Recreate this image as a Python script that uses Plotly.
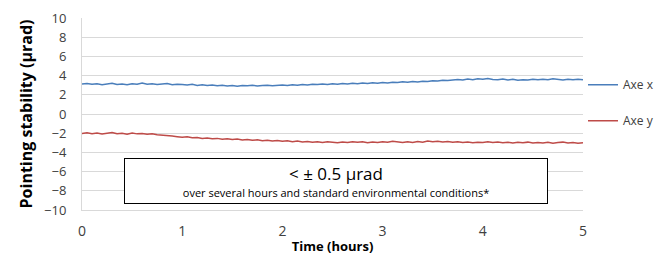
import plotly.graph_objects as go

time_h = [0.00,0.05,0.10,0.15,0.20,0.25,0.30,0.35,0.40,0.45,0.50,0.55,0.60,0.65,0.70,0.75,0.80,0.85,0.90,0.95,
          1.00,1.05,1.10,1.15,1.20,1.25,1.30,1.35,1.40,1.45,1.50,1.55,1.60,1.65,1.70,1.75,1.80,1.85,1.90,1.95,
          2.00,2.05,2.10,2.15,2.20,2.25,2.30,2.35,2.40,2.45,2.50,2.55,2.60,2.65,2.70,2.75,2.80,2.85,2.90,2.95,
          3.00,3.05,3.10,3.15,3.20,3.25,3.30,3.35,3.40,3.45,3.50,3.55,3.60,3.65,3.70,3.75,3.80,3.85,3.90,3.95,
          4.00,4.05,4.10,4.15,4.20,4.25,4.30,4.35,4.40,4.45,4.50,4.55,4.60,4.65,4.70,4.75,4.80,4.85,4.90,4.95,
          5.00]

axe_x = [3.12,3.18,3.10,3.15,3.06,3.14,3.20,3.08,3.13,3.05,3.16,3.10,3.22,3.09,3.15,3.07,3.12,3.18,3.04,3.11,
         3.08,3.02,3.10,2.98,3.05,2.96,3.03,2.94,3.00,2.92,2.98,2.90,2.97,2.93,2.99,2.91,2.96,3.00,2.94,2.98,
         3.02,2.97,3.05,3.00,3.08,3.03,3.10,3.06,3.12,3.08,3.15,3.11,3.18,3.13,3.20,3.16,3.22,3.19,3.26,3.21,
         3.28,3.24,3.31,3.27,3.35,3.30,3.38,3.34,3.42,3.38,3.47,3.43,3.52,3.48,3.56,3.60,3.55,3.64,3.58,3.66,
         3.62,3.70,3.60,3.57,3.64,3.55,3.62,3.52,3.58,3.54,3.61,3.56,3.63,3.57,3.66,3.59,3.55,3.63,3.58,3.62,
         3.57]

axe_y = [-2.02,-1.96,-2.05,-1.98,-2.08,-2.00,-1.94,-2.06,-2.01,-2.10,-1.99,-2.07,-2.03,-2.12,-2.05,-2.15,
         -2.18,-2.24,-2.30,-2.36,
         -2.42,-2.38,-2.48,-2.44,-2.55,-2.50,-2.58,-2.54,-2.62,-2.58,-2.66,-2.61,-2.70,-2.66,-2.74,-2.69,-2.78,-2.73,-2.82,-2.76,
         -2.84,-2.79,-2.88,-2.82,-2.92,-2.86,-2.95,-2.88,-2.97,-2.90,-2.94,-3.00,-2.91,-2.97,-2.88,-2.95,-2.90,-2.99,-2.92,-2.96,
         -2.89,-2.95,-2.85,-2.92,-2.98,-2.90,-2.96,-2.87,-2.93,-2.82,-2.88,-2.84,-2.92,-2.86,-2.95,-2.89,-2.97,-2.91,-2.99,-2.93,
         -2.96,-2.90,-2.98,-2.92,-3.00,-2.94,-3.02,-2.95,-2.99,-2.93,-3.03,-2.96,-3.01,-2.94,-3.05,-2.98,-2.93,-3.02,-2.97,-3.04,
         -2.99]

series_names = ["Axe x", "Axe y"]
x_ticks = [0, 1, 2, 3, 4, 5]
y_ticks = [-10, -8, -6, -4, -2, 0, 2, 4, 6, 8, 10]

FONT = "Open Sans"

fig = go.Figure()
fig.add_trace(go.Scatter(x=time_h, y=axe_x, mode="lines", name=series_names[0],
                         line=dict(color="#4a7ebb", width=1.5), legendgroup="a"))
fig.add_trace(go.Scatter(x=time_h, y=axe_y, mode="lines", name=series_names[1],
                         line=dict(color="#be4b48", width=1.5), legendgroup="b"))

fig.add_annotation(
    x=2.535, y=-6.94, xref="x", yref="y",
    text="<span style='font-size:17px'>&lt; ± 0.5 µrad</span><br><span style='font-size:11px'>over several hours and standard environmental conditions*</span>",
    showarrow=False, bgcolor="white", bordercolor="black", borderwidth=1,
    width=420, height=42, align="center", font=dict(family=FONT, color="black"),
)

# page body has an 8px default margin; compensate so the plot lands where the reference has it
fig.update_layout(
    width=662, height=247,
    margin=dict(l=74, r=87, t=10, b=45, autoexpand=False),
    paper_bgcolor="white", plot_bgcolor="white",
    font=dict(family=FONT, color="#404040", size=13),
    showlegend=True,
    legend=dict(x=1.0, y=0.728, xanchor="left", yanchor="top",
                font=dict(size=12, color="#404040"), tracegroupgap=17,
                bgcolor="rgba(0,0,0,0)"),
)
fig.update_xaxes(range=[0, 5], tickvals=x_ticks, showgrid=False, zeroline=False,
                 showline=True, linecolor="#d9d9d9", linewidth=1, ticks="",
                 tickfont=dict(size=14, color="#404040"), automargin=False,
                 ticklabelstandoff=8, ticklabeloverflow="allow",
                 title=dict(text="<b>Time (hours)</b>", font=dict(size=13, color="black"), standoff=12))
fig.update_yaxes(range=[-10, 10], tickvals=y_ticks, showgrid=True, gridcolor="#d9d9d9",
                 zeroline=False, showline=True, linecolor="#d9d9d9", linewidth=1, ticks="",
                 tickfont=dict(size=13, color="#404040"), automargin=False,
                 ticklabelstandoff=12, ticklabeloverflow="allow",
                 title=dict(text="<b>Pointing stability (µrad)</b>", font=dict(size=16, color="black"), standoff=7))

fig.write_html("out.html")
